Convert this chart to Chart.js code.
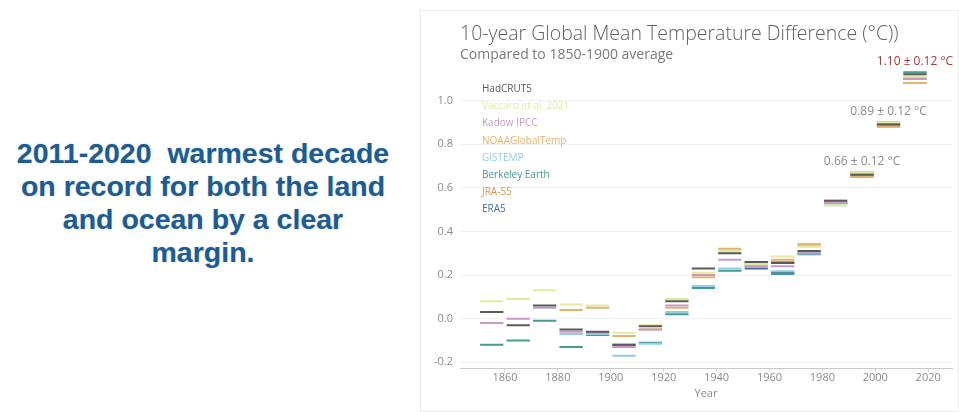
<!DOCTYPE html>
<html>
<head>
<meta charset="utf-8">
<script src="https://cdn.jsdelivr.net/npm/chart.js@4.4.1/dist/chart.umd.min.js"></script>
<style>
  body { margin: 0; background: #fff; width: 959px; height: 412px; overflow: hidden; position: relative; }
  .headline {
    position: absolute; left: 0; top: 137px; width: 406px;
    text-align: center; color: #1d5b91; font-family: 'Liberation Sans', Arial, sans-serif;
    font-weight: bold; font-size: 28.5px; line-height: 33px;
    text-shadow: 0 0 2px rgba(29, 91, 145, 0.25);
  }
  .panel { position: absolute; left: 420px; top: 10px; width: 537px; height: 400px; border: 1px solid #ededed; }
</style>
</head>
<body>
<div class="headline">2011-2020&nbsp; warmest decade<br>on record for both the land<br>and ocean by a clear<br>margin.</div>
<div class="panel"><canvas id="tempChart"></canvas></div>
<script>
// decade start years, each bar covers one decade
const decades = [1850, 1860, 1870, 1880, 1890, 1900, 1910, 1920, 1930, 1940, 1950, 1960, 1970, 1980, 1990, 2000, 2010];

const hadcrut5   = [0.03, -0.03, 0.06, -0.05, -0.06, -0.12, -0.035, 0.08, 0.23, 0.30, 0.26, 0.255, 0.31, 0.54, 0.66, 0.89, 1.12];
const vaccaro    = [0.08, 0.09, 0.13, 0.065, 0.06, -0.065, -0.03, 0.09, 0.21, 0.31, 0.25, 0.285, 0.33, 0.52, 0.67, 0.90, 1.11];
const kadow      = [-0.02, 0.00, 0.05, -0.06, -0.065, -0.13, -0.05, 0.06, 0.20, 0.27, 0.24, 0.24, 0.30, 0.53, 0.66, 0.89, 1.10];
const noaa       = [null, null, null, 0.04, 0.05, -0.08, -0.05, 0.05, 0.19, 0.32, 0.26, 0.27, 0.34, 0.53, 0.65, 0.88, 1.08];
const gistemp    = [null, null, null, -0.07, -0.07, -0.17, -0.115, 0.03, 0.15, 0.23, 0.24, 0.217, 0.30, 0.52, 0.66, 0.88, 1.10];
const berkeley   = [-0.12, -0.10, -0.01, -0.13, -0.075, -0.12, -0.11, 0.02, 0.14, 0.22, 0.25, 0.205, 0.295, 0.53, 0.67, 0.90, 1.13];
const jra55      = [null, null, null, null, null, null, null, null, null, null, null, 0.26, 0.34, 0.54, 0.65, 0.89, 1.08];
const era5       = [null, null, null, null, null, null, null, null, null, null, 0.23, 0.21, 0.30, 0.53, 0.66, 0.89, 1.10];

const seriesNames = ['HadCRUT5', 'Vaccaro et al. 2021', 'Kadow IPCC', 'NOAAGlobalTemp', 'GISTEMP', 'Berkeley Earth', 'JRA-55', 'ERA5'];
const seriesColors = ['#5a5a5a', '#e4e9a0', '#c79ac6', '#e2b36c', '#94cde3', '#449c8a', '#d9914f', '#426f9c'];
const seriesValues = [hadcrut5, vaccaro, kadow, noaa, gistemp, berkeley, jra55, era5];

const xTicks = [1860, 1880, 1900, 1920, 1940, 1960, 1980, 2000, 2020];
const yTicks = [-0.2, 0.0, 0.2, 0.4, 0.6, 0.8, 1.0];

const meanDecades = [1990, 2000, 2010];
const meanLabels = ['0.66 ± 0.12 °C', '0.89 ± 0.12 °C', '1.10 ± 0.12 °C'];

function decadeSegments(values) {
  const pts = [];
  decades.forEach((d, i) => {
    if (values[i] === null) return;
    pts.push({ x: d + 0.6, y: values[i] }, { x: d + 9.4, y: values[i] }, { x: d + 9.5, y: null });
  });
  return pts;
}

// legend text and the decade mean notes, drawn inside the plot
const notesPlugin = {
  id: 'notes',
  afterDatasetsDraw(chart) {
    const { ctx, chartArea, scales } = chart;
    ctx.save();
    ctx.font = "10px 'Open Sans', sans-serif";
    ctx.textBaseline = 'middle';
    ctx.textAlign = 'left';
    chart.data.datasets.forEach((ds, i) => {
      ctx.fillStyle = ds.borderColor;
      ctx.fillText(ds.label, chartArea.left + 22, chartArea.top + 26 + i * 17.2);
    });
    ctx.font = "12px 'Open Sans', sans-serif";
    ctx.textAlign = 'center';
    meanDecades.forEach((d, k) => {
      const idx = decades.indexOf(d);
      const top = Math.max(...seriesValues.map(s => s[idx]).filter(v => v !== null));
      ctx.fillStyle = k === meanLabels.length - 1 ? '#a23b3b' : '#8a8a8a';
      ctx.fillText(meanLabels[k], scales.x.getPixelForValue(d + 5), scales.y.getPixelForValue(top) - 11);
    });
    ctx.restore();
  }
};

Chart.defaults.font.family = "'Open Sans', sans-serif";

new Chart(document.getElementById('tempChart'), {
  type: 'line',
  data: {
    datasets: seriesValues.map((vals, i) => ({
      label: seriesNames[i],
      data: decadeSegments(vals),
      borderColor: seriesColors[i],
      borderWidth: 2,
      pointRadius: 0,
      fill: false,
      spanGaps: false
    }))
  },
  options: {
    responsive: true,
    maintainAspectRatio: false,
    animation: false,
    layout: { padding: { top: 5, right: 6, left: 0, bottom: 11 } },
    scales: {
      x: {
        type: 'linear',
        min: 1843,
        max: 2029,
        afterBuildTicks: scale => { scale.ticks = xTicks.map(v => ({ value: v })); },
        ticks: { color: '#8a8a8a', font: { size: 11 }, padding: 0, callback: v => String(v) },
        grid: { drawOnChartArea: false, drawTicks: true, tickLength: 3, color: '#d0d0d0' },
        border: { dash: [2, 3], color: '#c8c8c8' },
        title: { display: true, text: 'Year', color: '#8a8a8a', font: { size: 11 }, padding: { top: 2, bottom: 0 } }
      },
      y: {
        min: -0.229,
        max: 1.171,
        afterBuildTicks: scale => { scale.ticks = yTicks.map(v => ({ value: v })); },
        afterFit: scale => { scale.width = 39; },
        ticks: { color: '#8a8a8a', font: { size: 11 }, padding: 7, callback: v => v.toFixed(1) },
        grid: { color: '#f0f0f0', drawTicks: false },
        border: { display: false }
      }
    },
    plugins: {
      legend: { display: false },
      tooltip: { enabled: false },
      title: {
        display: true,
        fullSize: false,
        align: 'start',
        text: '10-year Global Mean Temperature Difference (°C))',
        color: '#616161',
        font: { size: 19.5, weight: '300' },
        padding: { top: 7, bottom: 0 }
      },
      subtitle: {
        display: true,
        fullSize: false,
        align: 'start',
        text: 'Compared to 1850-1900 average',
        color: '#7a7a7a',
        font: { size: 14 },
        padding: { top: 0, bottom: 0 }
      }
    }
  },
  plugins: [notesPlugin]
});
</script>
</body>
</html>
